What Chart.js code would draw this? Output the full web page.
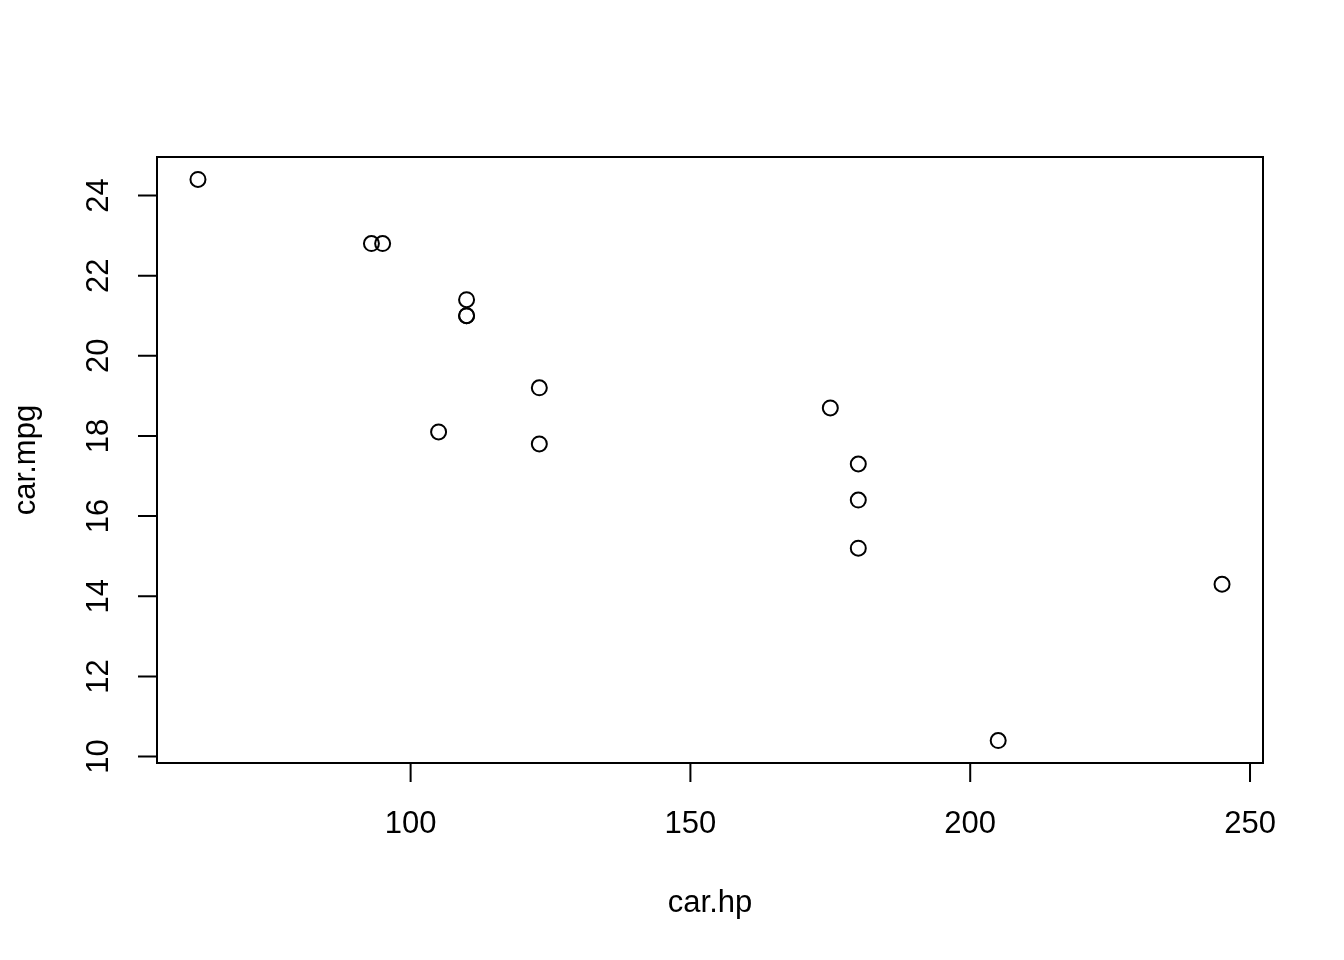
<!DOCTYPE html>
<html>
<head>
<meta charset="utf-8">
<script src="https://cdn.jsdelivr.net/npm/chart.js@4/dist/chart.umd.min.js"></script>
<style>
  html, body { margin: 0; padding: 0; background: #ffffff; }
  #wrap { width: 1344px; height: 960px; }
</style>
</head>
<body>
<div id="wrap"><canvas id="grafico" width="1344" height="960"></canvas></div>
<script>
// dados (mtcars, primeiras 15 linhas)
const carHp  = [110, 110, 93, 110, 175, 105, 245, 62, 95, 123, 123, 180, 180, 180, 205];
const carMpg = [21.0, 21.0, 22.8, 21.4, 18.7, 18.1, 14.3, 24.4, 22.8, 19.2, 17.8, 16.4, 17.3, 15.2, 10.4];
const xTicks = [100, 150, 200, 250];
const yTicks = [10, 12, 14, 16, 18, 20, 22, 24];
const xLabel = 'car.hp';
const yLabel = 'car.mpg';

const pontos = carHp.map((hp, i) => ({ x: hp, y: carMpg[i] }));

// faixa estilo R: extende 4% de cada lado
function faixa(vals) {
    const lo = Math.min(...vals), hi = Math.max(...vals);
    const d = (hi - lo) * 0.04;
    return [lo - d, hi + d];
}
const [xMin, xMax] = faixa(carHp);
const [yMin, yMax] = faixa(carMpg);

const FONTE = '31px "Liberation Sans", Arial, sans-serif';

// desenha caixa, eixos e rotulos como o plot base do R
const eixosR = {
    id: 'eixosR',
    afterDraw(chart) {
        const ctx = chart.ctx;
        const a = chart.chartArea;
        const sx = chart.scales.x, sy = chart.scales.y;
        const tick = 19;
        ctx.save();
        ctx.strokeStyle = '#000';
        ctx.fillStyle = '#000';
        ctx.lineWidth = 2;
        ctx.strokeRect(a.left, a.top, a.right - a.left, a.bottom - a.top);

        ctx.font = FONTE;
        // eixo x
        const x0 = sx.getPixelForValue(xTicks[0]);
        const x1 = sx.getPixelForValue(xTicks[xTicks.length - 1]);
        ctx.beginPath();
        ctx.moveTo(x0, a.bottom); ctx.lineTo(x1, a.bottom);
        xTicks.forEach(v => {
            const px = sx.getPixelForValue(v);
            ctx.moveTo(px, a.bottom); ctx.lineTo(px, a.bottom + tick);
        });
        ctx.stroke();
        ctx.textAlign = 'center';
        ctx.textBaseline = 'alphabetic';
        xTicks.forEach(v => {
            ctx.fillText(String(v), sx.getPixelForValue(v), a.bottom + 70);
        });
        ctx.fillText(xLabel, (a.left + a.right) / 2, a.bottom + 149);

        // eixo y
        const y0 = sy.getPixelForValue(yTicks[0]);
        const y1 = sy.getPixelForValue(yTicks[yTicks.length - 1]);
        ctx.beginPath();
        ctx.moveTo(a.left, y0); ctx.lineTo(a.left, y1);
        yTicks.forEach(v => {
            const py = sy.getPixelForValue(v);
            ctx.moveTo(a.left, py); ctx.lineTo(a.left - tick, py);
        });
        ctx.stroke();
        yTicks.forEach(v => {
            ctx.save();
            ctx.translate(a.left - 49, sy.getPixelForValue(v));
            ctx.rotate(-Math.PI / 2);
            ctx.fillText(String(v), 0, 0);
            ctx.restore();
        });
        ctx.save();
        ctx.translate(a.left - 122, (a.top + a.bottom) / 2);
        ctx.rotate(-Math.PI / 2);
        ctx.fillText(yLabel, 0, 0);
        ctx.restore();
        ctx.restore();
    }
};

new Chart(document.getElementById('grafico'), {
    type: 'scatter',
    data: {
        datasets: [{
            data: pontos,
            pointStyle: 'circle',
            pointRadius: 7.5,
            pointHoverRadius: 7.5,
            pointBorderWidth: 2,
            pointBorderColor: '#000',
            pointBackgroundColor: 'rgba(0,0,0,0)'
        }]
    },
    options: {
        responsive: false,
        animation: false,
        layout: { padding: { left: 157, right: 81, top: 157, bottom: 197 } },
        plugins: { legend: { display: false }, tooltip: { enabled: false } },
        scales: {
            x: { type: 'linear', min: xMin, max: xMax, display: false },
            y: { type: 'linear', min: yMin, max: yMax, display: false }
        }
    },
    plugins: [eixosR]
});
</script>
</body>
</html>
